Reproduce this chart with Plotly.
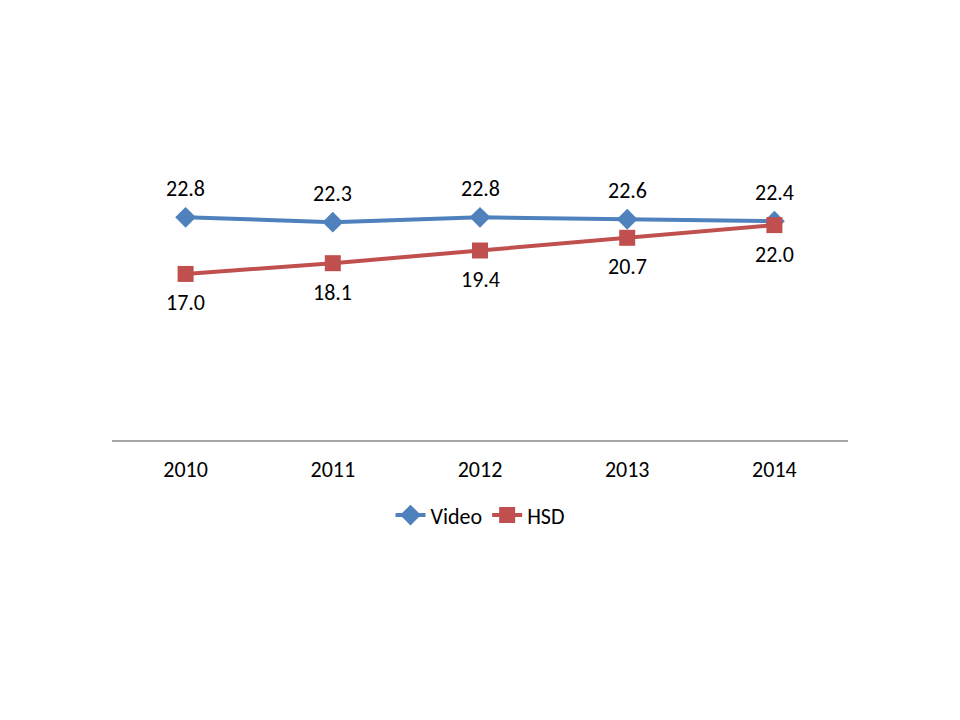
import plotly.graph_objects as go

# Data
years = ["2010", "2011", "2012", "2013", "2014"]
video = [22.8, 22.3, 22.8, 22.6, 22.4]
hsd = [17.0, 18.1, 19.4, 20.7, 22.0]

FONT = "Carlito, Lato, Arial"
BLUE = "#4F81BD"
RED = "#C0504D"

fig = go.Figure()

fig.add_trace(go.Scatter(
    name="Video",
    x=years,
    y=video,
    mode="lines+markers",
    line=dict(color=BLUE, width=4),
    marker=dict(symbol="diamond", size=16, color=BLUE),
))

fig.add_trace(go.Scatter(
    name="HSD",
    x=years,
    y=hsd,
    mode="lines+markers",
    line=dict(color=RED, width=4),
    marker=dict(symbol="square", size=16, color=RED),
))

# data labels: Video above the points, HSD below (x given as category index)
for i, v in enumerate(video):
    fig.add_annotation(x=i, y=v, xref="x", yref="y", text=f"{v:.1f}", showarrow=False,
                       yshift=29, font=dict(family=FONT, size=22, color="#000000"))
for i, v in enumerate(hsd):
    fig.add_annotation(x=i, y=v, xref="x", yref="y", text=f"{v:.1f}", showarrow=False,
                       yshift=-29, font=dict(family=FONT, size=22, color="#000000"))

fig.update_layout(
    width=960,
    height=720,
    margin=dict(l=104, r=120, t=137, b=288),
    paper_bgcolor="white",
    plot_bgcolor="white",
    font=dict(family=FONT, size=22, color="#000000"),
    showlegend=True,
    legend=dict(
        orientation="h",
        x=0.5, xanchor="center",
        y=-0.255, yanchor="middle",
        font=dict(family=FONT, size=22),
    ),
)

fig.update_xaxes(
    type="category",
    range=[-0.5, 4.5],
    showline=True,
    linecolor="#A6A6A6",
    linewidth=1.5,
    showgrid=False,
    ticks="",
    ticklabelstandoff=9,
)

fig.update_yaxes(
    range=[0, 30.2],
    visible=False,
    showgrid=False,
    zeroline=False,
)

fig.write_html("out.html")
